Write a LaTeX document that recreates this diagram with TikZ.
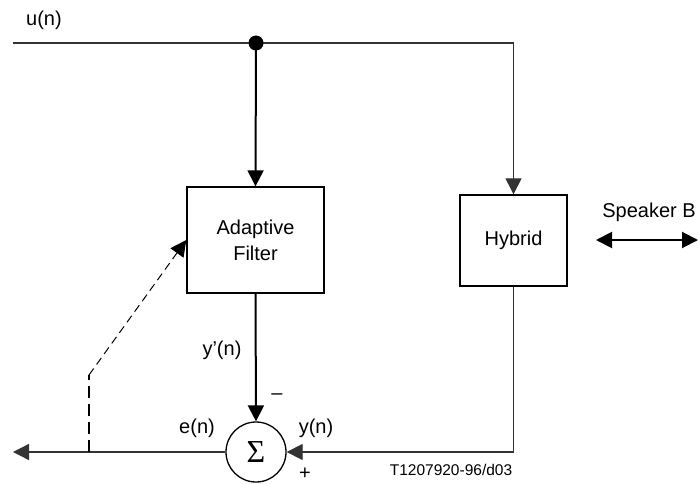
\documentclass[tikz,border=0pt]{standalone}
\usepackage{fontspec}
\setmainfont{Liberation Sans}
\newfontfamily\sigmafont{Liberation Serif}
\usetikzlibrary{arrows.meta}
\begin{document}
\begin{tikzpicture}[x=1pt,y=-1pt,
  every node/.style={font=\fontsize{20}{24}\selectfont, inner sep=0pt},
  thinline/.style={line width=1.3pt, draw=black!80},
  thickline/.style={line width=2pt, draw=black},
  tip/.style={-{Triangle[length=16pt,width=16pt]}},
  blockbox/.style={draw, line width=1.4pt, rectangle}
]
\useasboundingbox (0,0) rectangle (698,484);
% blocks
\node[blockbox, minimum width=137pt, minimum height=106pt, align=center] (filter) at (255.5,240) {Adaptive\\[2pt]Filter};
\node[blockbox, minimum width=107pt, minimum height=91pt] (hybrid) at (513.5,240.5) {Hybrid};
\node[draw, line width=1.3pt, circle, minimum size=60pt] (sum) at (256,452) {\sigmafont\fontsize{32}{32}\selectfont Σ};
% coordinates
\coordinate (uin) at (13,43);
\coordinate (dot) at (256,43);
\coordinate (out) at (13,452);
\coordinate (tap) at (89,452);
\coordinate (bend) at (89,375);
\coordinate (spkL) at (596,240);
\coordinate (spkR) at (698,240);
% connectors
\draw[thinline, tip] (uin) -| (hybrid.north);
\draw[thickline, tip] (dot) -- (filter.north);
\fill (dot) circle (7.5pt);
\draw[thickline, tip] (filter.south) -- (sum.north);
\draw[thinline, tip] (hybrid.south) |- (sum.east);
\draw[thinline, tip] (sum.west) -- (out);
\draw[line width=2pt, dash pattern=on 12pt off 6pt] (tap) -- (bend);
\draw[line width=1pt, dash pattern=on 8pt off 5pt, tip] (bend) -- (filter.west);
\draw[thickline, {Triangle[length=16pt,width=16pt]}-{Triangle[length=16pt,width=16pt]}] (spkL) -- (spkR);
% labels
\node (lu) at (44,20) {u(n)};
\node (lsp) at (649,212) {Speaker B};
\node (lyp) at (222,350) {y’(n)};
\node (lminus) at (277,397) {–};
\node (le) at (197,428) {e(n)};
\node (ly) at (316,428) {y(n)};
\node (lplus) at (305,474) {+};
\node[font=\fontsize{15.5}{18}\selectfont] (lid) at (451,470) {T1207920-96/d03};
\end{tikzpicture}
\end{document}
